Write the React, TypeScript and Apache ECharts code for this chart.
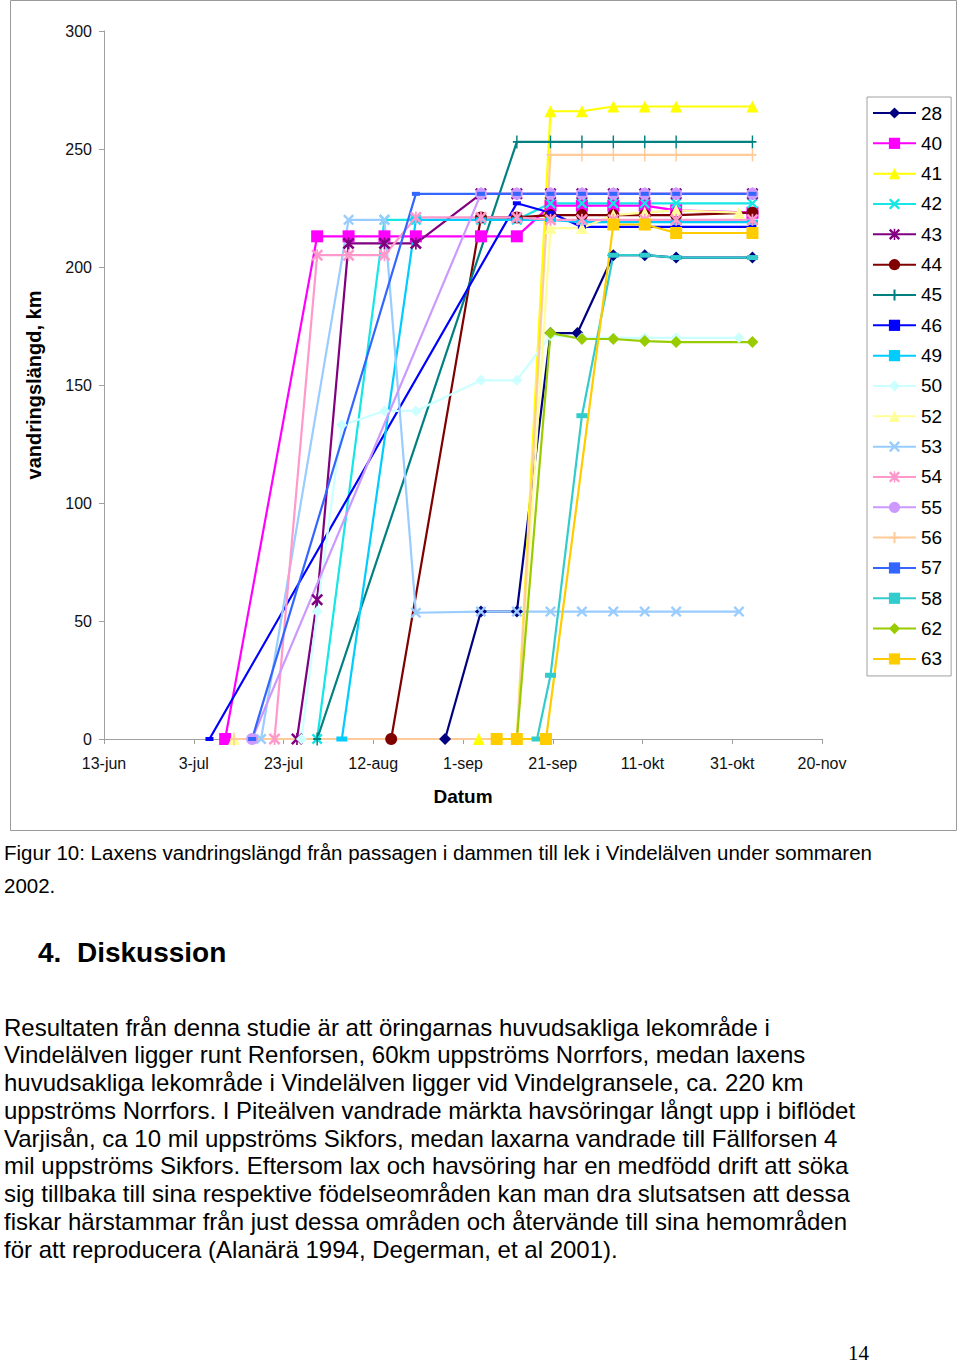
import React, { useEffect, useRef } from "react";
import * as echarts from "echarts";

// x = days after 13 June 2002, y = migration distance (km)
const xTickLabels = ["13-jun", "3-jul", "23-jul", "12-aug", "1-sep", "21-sep", "11-okt", "31-okt", "20-nov"];
const fishIds = ["28", "40", "41", "42", "43", "44", "45", "46", "49", "50", "52", "53", "54", "55", "56", "57", "58", "62", "63"];

const fish28 = [[76, 0], [84, 54], [92, 54], [99.5, 172], [105.5, 172], [113.5, 205], [120.5, 205], [127.5, 204], [144.5, 204]];
const fish40 = [[27, 0], [47.5, 213], [54.5, 213], [62.5, 213], [69.5, 213], [84, 213], [92, 213], [99.5, 226], [106.5, 226], [113.5, 226], [120.5, 226], [127.5, 224], [144.5, 223]];
const fish41 = [[83.5, 0], [92, 0], [99.5, 266], [106.5, 266], [113.5, 268], [120.5, 268], [127.5, 268], [144.5, 268]];
const fish42 = [[47.5, 0], [62.5, 220], [69.5, 220], [84, 220], [92, 220], [99.5, 227], [106.5, 227], [113.5, 227], [120.5, 227], [127.5, 227], [144.5, 227]];
const fish43 = [[43, 0], [47.5, 59], [54.5, 210], [62.5, 210], [69.5, 210], [84, 231], [92, 231], [99.5, 231], [106.5, 231], [113.5, 231], [120.5, 231], [127.5, 231], [144.5, 231]];
const fish44 = [[64, 0], [84, 221], [92, 221], [99.5, 222], [106.5, 222], [113.5, 222], [120.5, 222], [127.5, 222], [144.5, 223]];
const fish45 = [[47.5, 0], [92, 253], [99.5, 253], [106.5, 253], [113.5, 253], [120.5, 253], [127.5, 253], [144.5, 253]];
const fish46 = [[23.5, 0], [92, 227], [99.5, 223], [106.5, 217], [113.5, 217], [120.5, 217], [127.5, 217], [144.5, 217]];
const fish49 = [[53, 0], [69.5, 220], [84, 220], [92, 220], [99.5, 220], [106.5, 219], [113.5, 219], [120.5, 219], [127.5, 219], [144.5, 219]];
const fish50 = [[44, 0], [47.5, 54], [53, 133], [62.5, 139], [69.5, 139], [84, 152], [92, 152], [99.5, 171], [106.5, 170], [113.5, 170], [120.5, 170], [127.5, 170], [141.5, 170]];
const fish52 = [[29, 0], [92, 0], [99.5, 216.5], [106.5, 216.5], [113.5, 222], [120.5, 223], [127.5, 224], [141.5, 223]];
const fish53 = [[35, 0], [54.5, 220], [62.5, 220], [69.5, 53.5], [84, 54], [92, 54], [99.5, 54], [106.5, 54], [113.5, 54], [120.5, 54], [127.5, 54], [141.5, 54]];
const fish54 = [[38, 0], [47.5, 205], [54.5, 205], [62.5, 205], [69.5, 221], [84, 221], [92, 221], [99.5, 220], [106.5, 220], [113.5, 220], [120.5, 220], [127.5, 220], [144.5, 220]];
const fish55 = [[33, 0], [84, 231], [92, 231], [99.5, 231], [106.5, 231], [113.5, 231], [120.5, 231], [127.5, 231], [144.5, 231]];
const fish56 = [[29, 0], [92, 0], [99.5, 247.5], [106.5, 247.5], [113.5, 247.5], [120.5, 247.5], [127.5, 247.5], [144.5, 247.5]];
const fish57 = [[33, 0], [69.5, 231], [84, 231], [92, 231], [99.5, 231], [106.5, 231], [113.5, 231], [120.5, 231], [127.5, 231], [144.5, 231]];
const fish58 = [[96.5, 0], [99.5, 27], [106.5, 137], [113.5, 205], [120.5, 205], [127.5, 204], [144.5, 204]];
const fish62 = [[87.5, 0], [92, 0], [99.5, 172], [106.5, 169.5], [113.5, 169.5], [120.5, 168.6], [127.5, 168.2], [144.5, 168.2]];
const fish63 = [[87.5, 0], [92, 0], [98.5, 0], [113.5, 218], [120.5, 218], [127.5, 214.4], [144.5, 214.4]];

const fishData = [fish28, fish40, fish41, fish42, fish43, fish44, fish45, fish46, fish49, fish50, fish52, fish53, fish54, fish55, fish56, fish57, fish58, fish62, fish63];

const captionLines = [
  "Figur 10: Laxens vandringslängd från passagen i dammen till lek i Vindelälven under sommaren",
  "2002.",
];
const paragraphLines = [
  "Resultaten från denna studie är att öringarnas huvudsakliga lekområde i",
  "Vindelälven ligger runt Renforsen, 60km uppströms Norrfors, medan laxens",
  "huvudsakliga lekområde i Vindelälven ligger vid Vindelgransele, ca. 220 km",
  "uppströms Norrfors. I Piteälven vandrade märkta havsöringar långt upp i biflödet",
  "Varjisån, ca 10 mil uppströms Sikfors, medan laxarna vandrade till Fällforsen 4",
  "mil uppströms Sikfors. Eftersom lax och havsöring har en medfödd drift att söka",
  "sig tillbaka till sina respektive födelseområden kan man dra slutsatsen att dessa",
  "fiskar härstammar från just dessa områden och återvände till sina hemområden",
  "för att reproducera (Alanärä 1994, Degerman, et al 2001).",
];

const X_SYM = "path://M0,1.5L1.5,0L5,3.5L8.5,0L10,1.5L6.5,5L10,8.5L8.5,10L5,6.5L1.5,10L0,8.5L3.5,5Z";
const STAR_SYM = X_SYM + "M4.3,0L5.7,0L5.7,10L4.3,10Z";
const PLUS_SYM = "path://M4.1,0L5.9,0L5.9,4.3L10,4.3L10,5.7L5.9,5.7L5.9,10L4.1,10L4.1,5.7L0,5.7L0,4.3L4.1,4.3Z";

const styles: Record<string, { color: string; symbol: string; size: any }> = {
  "28": { color: "#000080", symbol: "diamond", size: 12 },
  "40": { color: "#FF00FF", symbol: "rect", size: 12 },
  "41": { color: "#FFFF00", symbol: "triangle", size: 12 },
  "42": { color: "#16E6E6", symbol: X_SYM, size: 11 },
  "43": { color: "#800080", symbol: STAR_SYM, size: 12 },
  "44": { color: "#800000", symbol: "circle", size: 12 },
  "45": { color: "#008080", symbol: PLUS_SYM, size: [8, 13] },
  "46": { color: "#0000FF", symbol: "rect", size: [8, 4] },
  "49": { color: "#00CCFF", symbol: "rect", size: [11, 5] },
  "50": { color: "#CCFFFF", symbol: "diamond", size: 11 },
  "52": { color: "#FFFF99", symbol: "triangle", size: 12 },
  "53": { color: "#99CCFF", symbol: X_SYM, size: 11 },
  "54": { color: "#FF99CC", symbol: STAR_SYM, size: 12 },
  "55": { color: "#CC99FF", symbol: "circle", size: 12 },
  "56": { color: "#FFCC99", symbol: PLUS_SYM, size: [8, 13] },
  "57": { color: "#3366FF", symbol: "rect", size: [8, 4] },
  "58": { color: "#33CCCC", symbol: "rect", size: [11, 5] },
  "62": { color: "#99CC00", symbol: "diamond", size: 12 },
  "63": { color: "#FFCC00", symbol: "rect", size: 12 },
};

export default function App() {
  const ref = useRef<HTMLDivElement>(null);
  useEffect(() => {
    if (!ref.current) return;
    const chart = echarts.init(ref.current, undefined, { renderer: "svg" });
    const FONT = "Liberation Sans";
    const series = fishIds.map((id, i) => {
      const s = styles[id];
      return {
        name: id,
        type: "line",
        data: fishData[i],
        symbol: s.symbol,
        symbolSize: s.size,
        showAllSymbol: true,
        lineStyle: { color: s.color, width: 2.2 },
        itemStyle: { color: s.color },
        emphasis: { disabled: true },
      };
    });
    const graphic: any[] = [
      {
        type: "rect",
        shape: { x: 10.5, y: 0.5, width: 946, height: 830 },
        style: { fill: "none", stroke: "#9a9a9a", lineWidth: 1 },
        silent: true,
        z: -10,
      },
    ];
    captionLines.forEach((t, i) => {
      graphic.push({
        type: "text",
        x: 4,
        y: 852 + i * 33,
        style: { text: t, fontSize: 20.5, fontFamily: FONT, fill: "#000", verticalAlign: "middle" },
      });
    });
    graphic.push({
      type: "text",
      x: 38,
      y: 952,
      style: { text: "4.  Diskussion", fontSize: 28, fontWeight: "bold", fontFamily: FONT, fill: "#000", verticalAlign: "middle" },
    });
    paragraphLines.forEach((t, i) => {
      graphic.push({
        type: "text",
        x: 4,
        y: 1027 + i * 27.75,
        style: { text: t, fontSize: 24, fontFamily: FONT, fill: "#000", verticalAlign: "middle" },
      });
    });
    graphic.push({
      type: "text",
      x: 848,
      y: 1353,
      style: { text: "14", fontSize: 21, fontFamily: "Liberation Serif", fill: "#000", verticalAlign: "middle" },
    });

    chart.setOption({
      animation: false,
      textStyle: { fontFamily: FONT },
      grid: { left: 104, top: 31, width: 718, height: 708, containLabel: false },
      xAxis: {
        type: "value",
        min: 0,
        max: 160,
        interval: 20,
        name: "Datum",
        nameLocation: "middle",
        nameGap: 48,
        nameTextStyle: { fontSize: 19, fontWeight: "bold", color: "#000", fontFamily: FONT },
        axisLine: { lineStyle: { color: "#a0a0a0", width: 1 } },
        axisTick: { show: true, length: 5, lineStyle: { color: "#a0a0a0" } },
        axisLabel: {
          fontSize: 16,
          color: "#111",
          margin: 16,
          formatter: (v: number) => xTickLabels[Math.round(v / 20)] ?? "",
        },
        splitLine: { show: false },
      },
      yAxis: {
        type: "value",
        min: 0,
        max: 300,
        interval: 50,
        name: "vandringslängd, km",
        nameLocation: "middle",
        nameGap: 60,
        nameRotate: 90,
        nameTextStyle: { fontSize: 20, fontWeight: "bold", color: "#000", fontFamily: FONT },
        axisLine: { show: true, lineStyle: { color: "#a0a0a0", width: 1 } },
        axisTick: { show: true, length: 5, lineStyle: { color: "#a0a0a0" } },
        axisLabel: { fontSize: 16, color: "#111", margin: 12 },
        splitLine: { show: false },
      },
      legend: {
        orient: "vertical",
        left: 867,
        top: 97,
        itemWidth: 43,
        itemHeight: 14,
        itemGap: 10.33,
        padding: [6, 9, 7, 5],
        borderColor: "#a0a0a0",
        borderWidth: 1,
        selectedMode: false,
        textStyle: { fontSize: 19, color: "#000", fontFamily: FONT, lineHeight: 20 },
        data: fishIds,
      },
      series,
      graphic,
    });
    return () => chart.dispose();
  }, []);
  return (
    <div
      ref={ref}
      style={{ position: "absolute", left: 0, top: 0, width: 960, height: 1365, background: "#fff" }}
    />
  );
}
